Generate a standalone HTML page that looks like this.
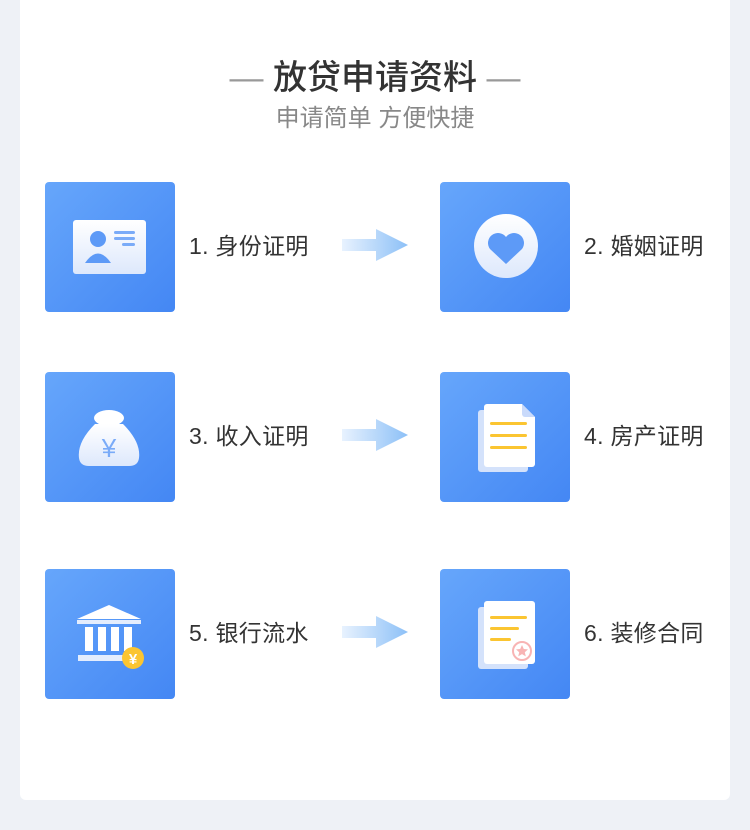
<!DOCTYPE html>
<html><head><meta charset="utf-8"><style>
*{margin:0;padding:0;box-sizing:border-box}
body{width:750px;height:830px;background:#eef1f6;font-family:"Liberation Sans","Noto Sans CJK SC",sans-serif;position:relative;overflow:hidden}
.card{position:absolute;left:20px;top:0;width:710px;height:800px;background:#fff;border-radius:0 0 6px 6px}
.t{position:absolute;left:0;width:750px;text-align:center;color:#333}
.box{position:absolute;width:130px;height:130px;border-radius:4px;background:linear-gradient(135deg,#66a6fb,#4487f4)}
.box svg{position:absolute;left:0;top:0}
.lab{position:absolute;font-size:23px;letter-spacing:0.3px;color:#333;line-height:30px}
.arr{position:absolute;left:342px}
</style></head><body>
<div class="card"></div>
<div class="t" style="top:56px;font-size:34px;line-height:44px;font-weight:500"><span style="color:#999;font-weight:300">—</span> 放贷申请资料 <span style="color:#999;font-weight:300">—</span></div>
<div class="t" style="top:104px;font-size:24px;line-height:30px;color:#888">申请简单 方便快捷</div>

<svg width="0" height="0" style="position:absolute"><defs>
<linearGradient id="ag" x1="0" x2="1"><stop offset="0" stop-color="#e8f2fe"/><stop offset="1" stop-color="#8cc0f7"/></linearGradient>
<linearGradient id="wg" x1="0" y1="0" x2="0" y2="1"><stop offset="0" stop-color="#fff"/><stop offset="1" stop-color="#dde8fc"/></linearGradient>
</defs></svg>

<!-- row 1 -->
<div class="box" style="left:45px;top:182px"><svg width="130" height="130">
<rect x="28" y="38" width="73" height="54" rx="3" fill="url(#wg)"/>
<circle cx="53" cy="57" r="8" fill="#5d9af7"/><path d="M40 81 q13-19 26 0z" fill="#5d9af7"/>
<rect x="69" y="49" width="21" height="3" rx="1.5" fill="#7aabf8"/><rect x="69" y="55" width="21" height="3" rx="1.5" fill="#7aabf8"/><rect x="77" y="61" width="13" height="3" rx="1.5" fill="#7aabf8"/>
</svg></div>
<div class="lab" style="left:189px;top:231px">1. 身份证明</div>
<svg class="arr" style="top:229px" width="66" height="32"><path d="M0 10h34V0l32 16-32 16V22H0z" fill="url(#ag)"/></svg>
<div class="box" style="left:440px;top:182px"><svg width="130" height="130">
<circle cx="66" cy="64" r="32" fill="url(#wg)"/>
<path d="M66 82 l-16-15 a9 9 0 0 1 16-12 a9 9 0 0 1 16 12z" fill="#5d9af7"/>
</svg></div>
<div class="lab" style="left:584px;top:231px">2. 婚姻证明</div>

<!-- row 2 -->
<div class="box" style="left:45px;top:372px"><svg width="130" height="130">
<ellipse cx="64" cy="46" rx="15" ry="8" fill="#fff"/>
<path d="M50 52 h28 q18 18 16 34 q-1 8-10 8 h-40 q-9 0-10-8 q-2-16 16-34z" fill="url(#wg)"/>
<text x="64" y="85" text-anchor="middle" font-size="26" fill="#7aabf8" font-family="Liberation Sans">¥</text>
</svg></div>
<div class="lab" style="left:189px;top:421px">3. 收入证明</div>
<svg class="arr" style="top:419px" width="66" height="32"><path d="M0 10h34V0l32 16-32 16V22H0z" fill="url(#ag)"/></svg>
<div class="box" style="left:440px;top:372px"><svg width="130" height="130">
<rect x="38" y="38" width="50" height="62" rx="3" fill="#d4e2fb"/>
<path d="M47 32 h35 l13 13 v47 a3 3 0 0 1-3 3 h-45 a3 3 0 0 1-3-3 v-57 a3 3 0 0 1 3-3z" fill="#fff"/>
<path d="M82 32 l13 13 h-10 a3 3 0 0 1-3-3z" fill="#c9dafb"/>
<rect x="50" y="50" width="37" height="3" rx="1.5" fill="#fbc531"/><rect x="50" y="62" width="37" height="3" rx="1.5" fill="#fbc531"/><rect x="50" y="74" width="37" height="3" rx="1.5" fill="#fbc531"/>
</svg></div>
<div class="lab" style="left:584px;top:421px">4. 房产证明</div>

<!-- row 3 -->
<div class="box" style="left:45px;top:569px"><svg width="130" height="130">
<path d="M32 50 l32-14 32 14z" fill="#fff"/>
<rect x="32" y="51" width="64" height="4" fill="#e4edfd"/>
<rect x="40" y="58" width="8" height="24" fill="#fff"/><rect x="53" y="58" width="8" height="24" fill="#fff"/><rect x="66" y="58" width="8" height="24" fill="#fff"/><rect x="79" y="58" width="8" height="24" fill="#fff"/>
<rect x="33" y="86" width="56" height="6" fill="#e4edfd"/>
<circle cx="88" cy="89" r="11" fill="#fbc531"/>
<text x="88" y="95" text-anchor="middle" font-size="15" font-weight="bold" fill="#fff" font-family="Liberation Sans">¥</text>
</svg></div>
<div class="lab" style="left:189px;top:618px">5. 银行流水</div>
<svg class="arr" style="top:616px" width="66" height="32"><path d="M0 10h34V0l32 16-32 16V22H0z" fill="url(#ag)"/></svg>
<div class="box" style="left:440px;top:569px"><svg width="130" height="130">
<rect x="38" y="38" width="50" height="62" rx="3" fill="#d4e2fb"/>
<rect x="44" y="32" width="51" height="63" rx="3" fill="#fff"/>
<rect x="50" y="47" width="37" height="3" rx="1.5" fill="#fbc531"/><rect x="50" y="58" width="29" height="3" rx="1.5" fill="#fbc531"/><rect x="50" y="69" width="21" height="3" rx="1.5" fill="#fbc531"/>
<circle cx="82" cy="82" r="9" fill="none" stroke="#f8b4b4" stroke-width="2"/>
<path d="M82 76 l1.8 4 4.2.4-3.2 2.8 1 4.2-3.8-2.3-3.8 2.3 1-4.2-3.2-2.8 4.2-.4z" fill="#f8b4b4"/>
</svg></div>
<div class="lab" style="left:584px;top:618px">6. 装修合同</div>
</body></html>
